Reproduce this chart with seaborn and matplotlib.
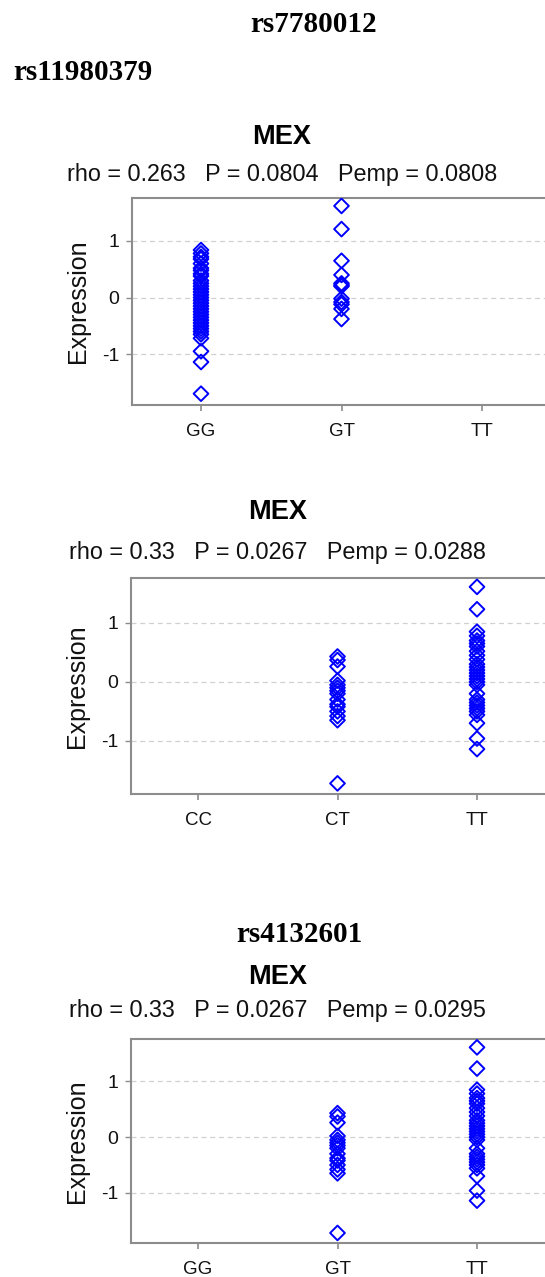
import matplotlib
matplotlib.use("Agg")
import matplotlib.pyplot as plt
import seaborn as sns
import pandas as pd

# ---------------- data ----------------
p1_cats = ["GG", "GT", "TT"]
p1_GG = [0.84, 0.78, 0.72, 0.68, 0.6, 0.52, 0.48, 0.42, 0.38, 0.3, 0.25, 0.2,
         0.15, 0.1, 0.05, 0.0, -0.05, -0.1, -0.15, -0.2, -0.25, -0.3, -0.35,
         -0.4, -0.45, -0.5, -0.55, -0.6, -0.65, -0.72, -0.95, -1.14, -1.7]
p1_GT = [1.62, 1.21, 0.65, 0.4, 0.25, 0.2, 0.22, -0.02, -0.08, -0.12, -0.2, -0.38]
p1_TT = []

p2_cats = ["CC", "CT", "TT"]
p2_CC = []
p2_CT = [0.43, 0.37, 0.26, 0.02, -0.05, -0.1, -0.15, -0.2, -0.3, -0.38, -0.42,
         -0.5, -0.58, -0.65, -1.72]
p2_TT = [1.61, 1.23, 0.85, 0.78, 0.7, 0.65, 0.6, 0.52, 0.45, 0.38, 0.3, 0.25,
         0.2, 0.15, 0.1, 0.05, 0.0, -0.05, -0.2, -0.3, -0.35, -0.4, -0.45, -0.5,
         -0.56, -0.7, -0.96, -1.14]

p3_cats = ["GG", "GT", "TT"]
p3_GG = []
p3_GT = [0.43, 0.37, 0.26, 0.02, -0.05, -0.1, -0.15, -0.2, -0.3, -0.38, -0.42,
         -0.5, -0.58, -0.65, -1.72]
p3_TT = [1.61, 1.23, 0.85, 0.78, 0.7, 0.65, 0.6, 0.52, 0.45, 0.38, 0.3, 0.25,
         0.2, 0.15, 0.1, 0.05, 0.0, -0.05, -0.2, -0.3, -0.35, -0.4, -0.45, -0.5,
         -0.56, -0.7, -0.96, -1.14]

snp_titles = ["rs7780012", "rs11980379", "rs4132601"]
pop_title = "MEX"
stats_texts = ["rho = 0.263   P = 0.0804   Pemp = 0.0808",
               "rho = 0.33   P = 0.0267   Pemp = 0.0288",
               "rho = 0.33   P = 0.0267   Pemp = 0.0295"]
y_ticks = [-1, 0, 1]
y_label = "Expression"

# ---------------- figure ----------------
sns.set_theme(style="white")
plt.rcParams["font.family"] = ["Liberation Sans", "DejaVu Sans"]

W, H = 545, 1277
fig = plt.figure(figsize=(W / 100, H / 100), dpi=100)

def long_df(cats, groups):
    rows = []
    for c, vals in zip(cats, groups):
        for v in vals:
            rows.append({"geno": c, "expr": v})
    return pd.DataFrame(rows, columns=["geno", "expr"])

panels = [
    (p1_cats, [p1_GG, p1_GT, p1_TT], (132, 198, 405), 201, 140.5),
    (p2_cats, [p2_CC, p2_CT, p2_TT], (131, 578, 794), 198, 139.5),
    (p3_cats, [p3_GG, p3_GT, p3_TT], (131, 1039, 1243), 198, 139.5),
]

spine_col = "#8c8c8c"
for cats, groups, (lpx, tpx, bpx), x0px, dx in panels:
    ax = fig.add_axes([lpx / W, 1 - bpx / H, (W - lpx) / W, (bpx - tpx) / H])
    df = long_df(cats, groups)
    sns.stripplot(data=df, x="geno", y="expr", order=cats, jitter=False,
                  marker="D", size=7.5, ax=ax, color="blue", zorder=3)
    for coll in ax.collections:
        coll.set_facecolor("none")
        coll.set_edgecolor("#0000ff")
        coll.set_linewidth(1.4)
    ax.set_xlim(-(x0px - lpx) / dx, (W - x0px) / dx)
    ax.set_ylim(-1.9, 1.76)
    ax.set_yticks(y_ticks)
    ax.set_yticklabels([str(t) for t in y_ticks])
    ax.set_xlabel("")
    ax.set_ylabel(y_label, fontsize=18, labelpad=9, color="#111111")
    for y in y_ticks:
        ax.axhline(y, color="#d0d0d0", lw=0.9, ls=(0, (4, 3)), zorder=1)
    for s in ["left", "bottom", "top"]:
        ax.spines[s].set_visible(True)
        ax.spines[s].set_color(spine_col)
        ax.spines[s].set_linewidth(1.5)
    ax.spines["right"].set_visible(False)
    ax.tick_params(axis="x", length=4, width=1.2, color=spine_col, pad=9,
                   labelsize=13.5, labelcolor="#111111", bottom=True)
    ax.tick_params(axis="y", length=4, width=1.0, color=spine_col, pad=5,
                   labelsize=14, labelcolor="#111111", left=True)
    ax.grid(False)

# titles
serif = ["Liberation Serif", "DejaVu Serif"]
fig.text(314 / W, 1 - 25 / H, snp_titles[0], ha="center", va="center",
         fontsize=21, fontweight="bold", family=serif, color="black")
fig.text(13 / W, 1 - 72 / H, snp_titles[1], ha="left", va="center",
         fontsize=21, fontweight="bold", family=serif, color="black")
fig.text(299 / W, 1 - 935 / H, snp_titles[2], ha="center", va="center",
         fontsize=21, fontweight="bold", family=serif, color="black")

for ymex, xc in [(137, 282), (512, 278), (977, 278)]:
    fig.text(xc / W, 1 - ymex / H, pop_title, ha="center", va="center",
             fontsize=19.5, fontweight="bold", color="black")
for (yst, xc), txt in zip([(175, 282), (552, 277), (1010, 277)], stats_texts):
    fig.text(xc / W, 1 - yst / H, txt, ha="center", va="center", fontsize=16.8,
             color="#111111")

fig.savefig("out.png", dpi=100)
